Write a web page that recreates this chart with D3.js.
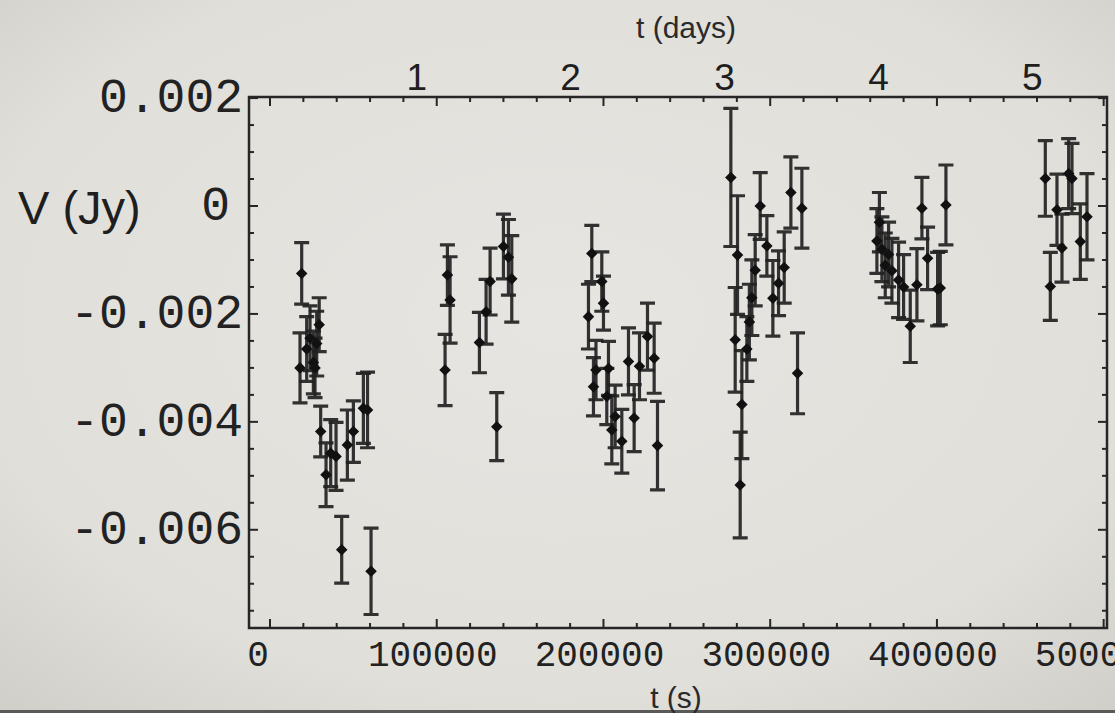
<!DOCTYPE html>
<html>
<head>
<meta charset="utf-8">
<script src="https://cdn.jsdelivr.net/npm/d3@7"></script>
<style>
  html, body { margin: 0; padding: 0; background: #e2e1dc; }
  svg { display: block; }
</style>
</head>
<body>
<div id="chartDiv"></div>
<script>
// light curve values
var tSec = [19000, 18000, 22000, 24000, 26000, 28000, 29500, 27000,
    30400, 33600, 36400, 39600, 43000, 46400, 50000, 56000, 58500, 60600,
    105000, 106400, 108000, 125600, 129600, 132000, 136000, 140000, 143000, 145000,
    191000, 193000, 194000, 195500, 199000, 200000, 202000, 203000, 205000, 207000,
    211000, 215000, 218400, 221600, 226400, 230400, 232400,
    276400, 279000, 280400, 282000, 283000, 286000, 287500, 289000, 291000, 294000,
    298000, 301600, 305000, 308400, 312400, 316400, 319000,
    364000, 365500, 367000, 369000, 371000, 373000, 377000, 380000, 384000, 388000,
    391000, 394400, 400400, 402000, 405400,
    465000, 468000, 472000, 475000, 479000, 481000, 486000, 490000];

var vJy = [-0.00125, -0.00300, -0.00265, -0.00245, -0.00290, -0.00255, -0.00220, -0.00300,
    -0.00418, -0.00498, -0.00458, -0.00464, -0.00637, -0.00443, -0.00418, -0.00375, -0.00378, -0.00677,
    -0.00304, -0.00128, -0.00174, -0.00253, -0.00196, -0.00140, -0.00409, -0.00075, -0.00095, -0.00135,
    -0.00205, -0.00088, -0.00335, -0.00304, -0.00140, -0.00180, -0.00353, -0.00301, -0.00415, -0.00390,
    -0.00436, -0.00288, -0.00393, -0.00297, -0.00242, -0.00282, -0.00444,
    0.00053, -0.00248, -0.00091, -0.00517, -0.00368, -0.00265, -0.00215, -0.00170, -0.00119, 0.00000,
    -0.00074, -0.00171, -0.00143, -0.00114, 0.00025, -0.00310, -0.00004,
    -0.00065, -0.00030, -0.00080, -0.00110, -0.00090, -0.00120, -0.00137, -0.00150, -0.00223, -0.00146,
    -0.00004, -0.00097, -0.00154, -0.00152, 0.00002,
    0.00051, -0.00149, -0.00007, -0.00078, 0.00060, 0.00051, -0.00066, -0.00020];

var errJy = [0.00057, 0.00065, 0.00060, 0.00060, 0.00058, 0.00060, 0.00050, 0.00055,
    0.00047, 0.00059, 0.00062, 0.00063, 0.00062, 0.00065, 0.00057, 0.00065, 0.00070, 0.00080,
    0.00066, 0.00056, 0.00080, 0.00056, 0.00060, 0.00062, 0.00063, 0.00060, 0.00070, 0.00080,
    0.00060, 0.00052, 0.00054, 0.00055, 0.00055, 0.00050, 0.00052, 0.00050, 0.00063, 0.00058,
    0.00059, 0.00062, 0.00062, 0.00062, 0.00062, 0.00065, 0.00082,
    0.00128, 0.00097, 0.00110, 0.00098, 0.00100, 0.00060, 0.00070, 0.00070, 0.00066, 0.00062,
    0.00056, 0.00070, 0.00060, 0.00066, 0.00066, 0.00075, 0.00074,
    0.00060, 0.00055, 0.00060, 0.00060, 0.00060, 0.00060, 0.00070, 0.00060, 0.00067, 0.00067,
    0.00057, 0.00058, 0.00068, 0.00068, 0.00074,
    0.00070, 0.00063, 0.00066, 0.00063, 0.00065, 0.00065, 0.00070, 0.00080];

var xMajorTicks = [0, 100000, 200000, 300000, 400000, 500000];
var yMajorTicks = [0.002, 0, -0.002, -0.004, -0.006];
var dayTicks = [1, 2, 3, 4, 5];

var W = 1115, H = 713;
var margin = { top: 97, right: 8, bottom: 85, left: 249 },
    width = W - margin.left - margin.right,
    height = H - margin.top - margin.bottom;

var x = d3.scaleLinear().domain([-12600, 502000]).range([0, width]);
var y = d3.scaleLinear().domain([-0.00782, 0.00202]).range([height, 0]);
// the day labels on top do not sit exactly at t/86400 in the picture
var xDays = d3.scaleLinear().domain([-0.090, 5.485]).range([0, width]);

var svg = d3.select("#chartDiv").append("svg")
    .attr("width", W)
    .attr("height", H);

// paper-ish background with darker corners
var defs = svg.append("defs");
var grad = defs.append("radialGradient")
    .attr("id", "paper")
    .attr("cx", "50%").attr("cy", "45%").attr("r", "75%");
grad.append("stop").attr("offset", "0%").attr("stop-color", "#e6e5e1");
grad.append("stop").attr("offset", "70%").attr("stop-color", "#e0dfda");
grad.append("stop").attr("offset", "100%").attr("stop-color", "#cfcec9");
svg.append("rect").attr("width", W).attr("height", H).attr("fill", "url(#paper)");
svg.append("rect").attr("x", 0).attr("y", H - 3).attr("width", W).attr("height", 3).attr("fill", "#5a5a58");

var g = svg.append("g")
    .attr("transform", "translate(" + margin.left + "," + margin.top + ")");

var ink = "#262626";

// ticks, all pointing inwards, mirrored on the opposite side
function tickAxis(scale, major, minorStep, side) {
    var grp = g.append("g").attr("class", "ticks-" + side);
    var dom = scale.domain();
    var lo = Math.min(dom[0], dom[1]), hi = Math.max(dom[0], dom[1]);
    var minor = d3.range(Math.ceil(lo / minorStep) * minorStep, hi, minorStep);
    minor.forEach(function (v) {
        var isMajor = major.some(function (m) { return Math.abs(m - v) < minorStep / 10; });
        var len = isMajor ? 9 : 5;
        var p = scale(v);
        var line = grp.append("line").attr("stroke", ink).attr("stroke-width", 2);
        if (side == "bottom") line.attr("x1", p).attr("x2", p).attr("y1", height).attr("y2", height - len);
        if (side == "top") line.attr("x1", p).attr("x2", p).attr("y1", 0).attr("y2", len);
        if (side == "left") line.attr("y1", p).attr("y2", p).attr("x1", 0).attr("x2", len);
        if (side == "right") line.attr("y1", p).attr("y2", p).attr("x1", width).attr("x2", width - len);
    });
}
tickAxis(x, xMajorTicks, 20000, "bottom");
tickAxis(x, xMajorTicks, 20000, "top");
tickAxis(y, yMajorTicks, 0.0005, "left");
tickAxis(y, yMajorTicks, 0.0005, "right");

// frame
g.append("rect")
    .attr("width", width)
    .attr("height", height)
    .attr("fill", "none")
    .attr("stroke", ink)
    .attr("stroke-width", 2.5);

// bottom tick labels (Courier style)
g.selectAll(".xlab")
    .data(xMajorTicks)
    .enter().append("text")
    .attr("class", "xlab")
    .attr("x", function (d) { return x(d) + (d === 0 ? -12 : -4); })
    .attr("y", height + 38)
    .attr("text-anchor", "middle")
    .style("font-family", "'Liberation Mono', 'DejaVu Sans Mono', monospace")
    .style("font-size", "36px")
    .style("fill", "#222")
    .text(function (d) { return d3.format("d")(d); });

// left tick labels
g.selectAll(".ylab")
    .data(yMajorTicks)
    .enter().append("text")
    .attr("class", "ylab")
    .attr("x", function (d) { return d === 0 ? -19 : -6; })
    .attr("y", function (d) { return y(d); })
    .attr("dy", "0.3em")
    .attr("text-anchor", "end")
    .style("font-family", "'Liberation Mono', 'DejaVu Sans Mono', monospace")
    .style("font-size", "48px")
    .style("fill", "#222")
    .text(function (d) { return d === 0 ? "0" : d3.format(".3f")(d).replace("−", "-"); });

// top day labels
g.selectAll(".daylab")
    .data(dayTicks)
    .enter().append("text")
    .attr("class", "daylab")
    .attr("x", function (d) { return xDays(d); })
    .attr("y", -7)
    .attr("text-anchor", "middle")
    .style("font-family", "'Liberation Sans', Arial, sans-serif")
    .style("font-size", "37px")
    .style("fill", "#1e1e1e")
    .text(function (d) { return d; });

// axis titles
svg.append("text")
    .attr("x", 686).attr("y", 38)
    .attr("text-anchor", "middle")
    .style("font-family", "'Liberation Sans', Arial, sans-serif")
    .style("font-size", "30px")
    .style("fill", "#2a2a2a")
    .text("t (days)");

svg.append("text")
    .attr("x", 18).attr("y", 224)
    .style("font-family", "'Liberation Sans', Arial, sans-serif")
    .style("font-size", "47px")
    .style("fill", "#1e1e1e")
    .text("V (Jy)");

svg.append("text")
    .attr("x", 676).attr("y", 708)
    .attr("text-anchor", "middle")
    .style("font-family", "'Liberation Sans', Arial, sans-serif")
    .style("font-size", "30px")
    .style("fill", "#2a2a2a")
    .text("t (s)");

// error bars
var pts = tSec.map(function (t, i) { return { t: t, v: vJy[i], e: errJy[i] }; });
var capW = 7.5;

var bars = g.append("g").attr("class", "errorbars")
    .attr("stroke", "#222")
    .attr("stroke-width", 3.2)
    .attr("stroke-opacity", 0.92);

bars.selectAll(".bar")
    .data(pts)
    .enter().append("path")
    .attr("class", "bar")
    .attr("fill", "none")
    .attr("d", function (d) {
        var px = x(d.t), top = y(d.v + d.e), bot = y(d.v - d.e);
        return "M" + px + "," + top + "V" + bot +
            "M" + (px - capW) + "," + top + "H" + (px + capW) +
            "M" + (px - capW) + "," + bot + "H" + (px + capW);
    });

// markers: filled diamonds
g.selectAll(".pt")
    .data(pts)
    .enter().append("path")
    .attr("class", "pt")
    .attr("transform", function (d) { return "translate(" + x(d.t) + "," + y(d.v) + ")"; })
    .attr("d", d3.symbol().type(d3.symbolDiamond2).size(85))
    .attr("fill", "#111");
</script>
</body>
</html>
